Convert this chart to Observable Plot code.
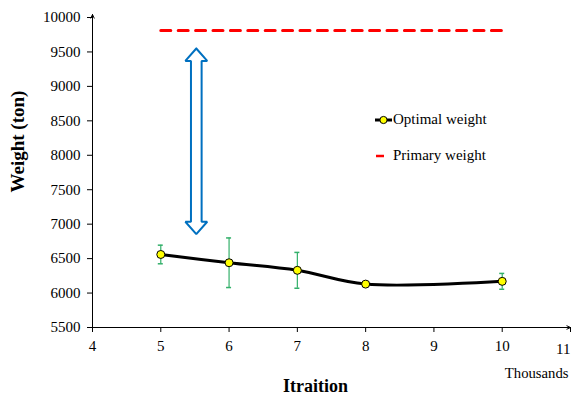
<!DOCTYPE html>
<html>
<head>
<meta charset="utf-8">
<script src="https://cdn.jsdelivr.net/npm/d3@7"></script>
<script src="https://cdn.jsdelivr.net/npm/@observablehq/plot@0.6"></script>
<style>
  body { margin: 0; background: white; }
  #wrap { position: relative; width: 571px; height: 397px; font-family: 'Liberation Serif'; }
  .leg { position: absolute; display: flex; align-items: center; font-family: 'Liberation Serif'; font-size: 15px; color: #000; white-space: nowrap; }
  .leg svg { margin-right: 0px; }
</style>
</head>
<body>
<div id="wrap"></div>
<script>
// ---- data ----
const iterations = [5, 6, 7, 8, 10];            // thousands
const optimalWeight = [6560, 6440, 6330, 6130, 6170];
const errorSize = [135, 360, 260, 0, 115];
const primaryWeight = 9810;
const primaryRange = [5, 10];
const arrowX = 5.52;
const arrowRange = [6855, 9550];
const xTicks = [4, 5, 6, 7, 8, 9, 10, 11];
const yTicks = [5500, 6000, 6500, 7000, 7500, 8000, 8500, 9000, 9500, 10000];
const xDomain = [4, 11];
const yDomain = [5500, 10000];

const optimal = iterations.map((x, i) => ({x, y: optimalWeight[i], e: errorSize[i]}));
const errs = optimal.filter(d => d.e > 0);
const primary = primaryRange.map(x => ({x, y: primaryWeight}));
const lastTick = xTicks[xTicks.length - 1];

// hollow double arrow outline built from the annotation values
const hw = 0.16, sw = 0.078, hl = 180;
const [ay0, ay1] = arrowRange;
const arrowPoly = [
  [arrowX, ay1], [arrowX + hw, ay1 - hl], [arrowX + sw, ay1 - hl],
  [arrowX + sw, ay0 + hl], [arrowX + hw, ay0 + hl], [arrowX, ay0],
  [arrowX - hw, ay0 + hl], [arrowX - sw, ay0 + hl], [arrowX - sw, ay1 - hl],
  [arrowX - hw, ay1 - hl], [arrowX, ay1]
].map(([x, y]) => ({x, y}));

const font = "Liberation Serif";

const chart = Plot.plot({
  width: 571,
  height: 397,
  marginLeft: 92,
  marginRight: 1,
  marginTop: 17,
  marginBottom: 70,
  style: {fontFamily: font, fontSize: "15px", background: "white", color: "black"},
  x: {domain: xDomain, axis: null},
  y: {domain: yDomain, axis: null},
  marks: [
    Plot.axisY(yTicks, {tickSize: 5, tickPadding: 7, fontSize: 15, fontFamily: font, label: null, tickFormat: d => String(d)}),
    Plot.axisX(xTicks, {tickSize: 5, tickPadding: 8, fontSize: 15, fontFamily: font, label: null, tickFormat: d => d === lastTick ? "" : String(d)}),
    Plot.text([lastTick], {x: d => d, y: yDomain[0], text: d => String(d), textAnchor: "end", dx: 0, dy: 22, fontSize: 15, fontFamily: font, lineAnchor: "middle"}),
    Plot.arrow([{x1: xDomain[0], y1: yDomain[0], x2: xDomain[0], y2: yDomain[1]}],
      {x1: "x1", y1: "y1", x2: "x2", y2: "y2", stroke: "black", strokeWidth: 1, headLength: 6, headAngle: 50, insetEnd: -3}),
    Plot.arrow([{x1: xDomain[0], y1: yDomain[0], x2: xDomain[1], y2: yDomain[0]}],
      {x1: "x1", y1: "y1", x2: "x2", y2: "y2", stroke: "black", strokeWidth: 1, headLength: 6, headAngle: 50}),
    Plot.line(primary, {x: "x", y: "y", stroke: "#ff0000", strokeWidth: 3, strokeDasharray: "10,7.4"}),
    Plot.line(arrowPoly, {x: "x", y: "y", stroke: "#0070c0", strokeWidth: 2, fill: "none", strokeLinejoin: "miter"}),
    Plot.ruleX(errs, {x: "x", y1: d => d.y - d.e, y2: d => d.y + d.e, stroke: "#33b06a", strokeWidth: 1.2}),
    Plot.ruleY(errs, {y: d => d.y + d.e, x1: "x", x2: "x", insetLeft: -2.5, insetRight: -2.5, stroke: "#33b06a", strokeWidth: 1.5}),
    Plot.ruleY(errs, {y: d => d.y - d.e, x1: "x", x2: "x", insetLeft: -2.5, insetRight: -2.5, stroke: "#33b06a", strokeWidth: 1.5}),
    Plot.line(optimal, {x: "x", y: "y", stroke: "black", strokeWidth: 3, curve: "catmull-rom"}),
    Plot.dot(optimal, {x: "x", y: "y", r: 4, fill: "#ffff00", stroke: "black", strokeWidth: 1}),
    Plot.text(["Weight (ton)"], {frameAnchor: "left", rotate: -90, dx: -75, dy: 20, fontSize: 19, fontWeight: "bold", fontFamily: font, lineAnchor: "middle"}),
    Plot.text(["Itraition"], {frameAnchor: "bottom", dx: -16, dy: 59, fontSize: 18, fontWeight: "bold", fontFamily: font, lineAnchor: "middle"}),
    Plot.text(["Thousands"], {frameAnchor: "bottom-right", textAnchor: "end", dx: -2, dy: 46, fontSize: 14.7, fontFamily: font, lineAnchor: "middle"})
  ]
});

const wrap = document.getElementById("wrap");
wrap.appendChild(chart);

// legend overlay
function legendItem(top, swatch, label) {
  const d = document.createElement("div");
  d.className = "leg";
  d.style.left = "374px";
  d.style.top = top + "px";
  d.innerHTML = swatch + "<span>" + label + "</span>";
  wrap.appendChild(d);
}
legendItem(111,
  '<svg width="19" height="12"><line x1="1" y1="6" x2="18" y2="6" stroke="black" stroke-width="3"/><circle cx="9.5" cy="6" r="3.6" fill="#ffff00" stroke="black" stroke-width="1"/></svg>',
  "Optimal weight");
legendItem(147,
  '<svg width="19" height="12"><line x1="2" y1="6" x2="10" y2="6" stroke="#ff0000" stroke-width="2.5"/></svg>',
  "Primary weight");
</script>
</body>
</html>
